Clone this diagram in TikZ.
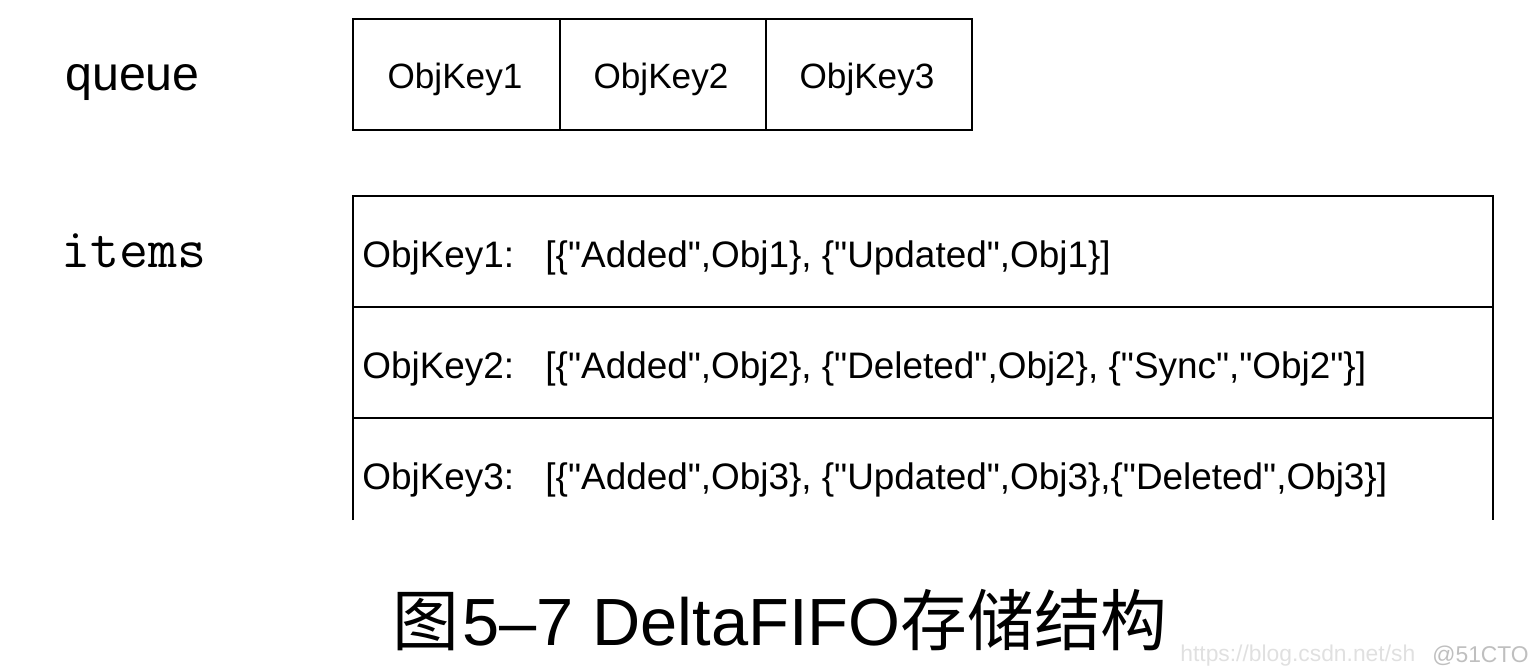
\documentclass[tikz,border=0pt]{standalone}
\usepackage{fontspec}
\setmainfont{Liberation Sans}[Ligatures=TeXOff]
\newfontfamily\cjkfont{Noto Sans CJK SC}
\newcommand\qd{\char34\relax}
\begin{document}
\begin{tikzpicture}[x=0.02cm,y=-0.02cm,
  celltext/.style={inner sep=0pt,font=\fontsize{20}{24}\selectfont},
  rowtext/.style={anchor=base west,inner sep=0pt,font=\fontsize{21}{24}\selectfont},
  frame/.style={line width=1.1pt}]
\useasboundingbox (0,0) rectangle (1530,672);
% queue
\node[anchor=base west,inner sep=0pt,font=\fontsize{27.5}{30}\selectfont] (ql) at (65,91) {queue};
\draw[frame] (353,19) rectangle (972,130);
\draw[frame] (560,19) -- (560,130);
\draw[frame] (766,19) -- (766,130);
\node[celltext,anchor=base] (q1) at (455,89) {ObjKey1};
\node[celltext,anchor=base] (q2) at (661,89) {ObjKey2};
\node[celltext,anchor=base] (q3) at (867,89) {ObjKey3};
% items
\node[anchor=base west,inner sep=0pt,font=\ttfamily\fontsize{32}{36}\selectfont] (il) at (61,267) {items};
\draw[frame] (353,520) -- (353,196) -- (1493,196) -- (1493,520);
\draw[frame] (353,307) -- (1493,307);
\draw[frame] (353,418) -- (1493,418);
\node[rowtext] (r1) at (362,267) {ObjKey1:\hspace{0.85em}[\{\qd Added\qd,Obj1\}, \{\qd Updated\qd,Obj1\}]};
\node[rowtext] (r2) at (362,378) {ObjKey2:\hspace{0.85em}[\{\qd Added\qd,Obj2\}, \{\qd Deleted\qd,Obj2\}, \{\qd Sync\qd,\qd Obj2\qd\}]};
\node[rowtext] (r3) at (362,489) {ObjKey3:\hspace{0.85em}[\{\qd Added\qd,Obj3\}, \{\qd Updated\qd,Obj3\},\{\qd Deleted\qd,Obj3\}]};
% caption
\node[anchor=base west,inner sep=0pt,font=\fontsize{38}{44}\selectfont] (cap) at (392,645) {{\cjkfont\fontsize{38}{44}\selectfont 图}\kern2pt 5–7 DeltaFIFO{\cjkfont\fontsize{38}{44}\selectfont 存储结构}};
\node[anchor=west,inner sep=0pt,text=black!12,font=\fontsize{13}{15}\selectfont] (wm) at (1180,656) {https://blog.csdn.net/sh};
\node[anchor=west,inner sep=0pt,text=black!25,font=\fontsize{13}{15}\selectfont] (wm2) at (1432,656) {@51CTO};
\end{tikzpicture}
\end{document}
